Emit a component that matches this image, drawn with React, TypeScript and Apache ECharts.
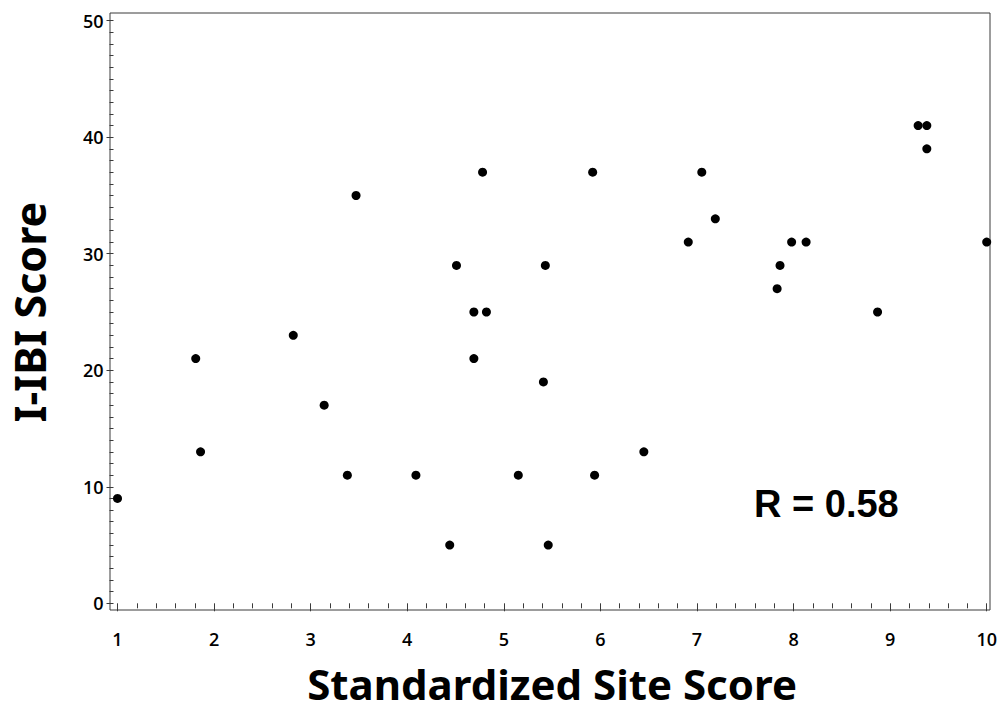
import React, { useEffect, useRef } from "react";
import * as echarts from "echarts";

const siteScore = [
  1.0, 1.81, 1.86, 2.82, 3.14, 3.38, 3.47, 4.09, 4.44, 4.51, 4.69, 4.69, 4.78,
  4.82, 5.15, 5.41, 5.43, 5.46, 5.92, 5.94, 6.45, 6.91, 7.05, 7.19, 7.83, 7.86,
  7.98, 8.13, 8.87, 9.29, 9.38, 9.38, 10.0,
];
const ibiScore = [
  9, 21, 13, 23, 17, 11, 35, 11, 5, 29, 25, 21, 37, 25, 11, 19, 29, 5, 37, 11,
  13, 31, 37, 33, 27, 29, 31, 31, 25, 41, 41, 39, 31,
];
const xTitle = "Standardized Site Score";
const yTitle = "I-IBI Score";
const rLabel = "R = 0.58";

export default function App() {
  const ref = useRef<HTMLDivElement>(null);
  useEffect(() => {
    const chart = echarts.init(ref.current!, null, { renderer: "svg" });
    const points = siteScore.map((x, i) => [x, ibiScore[i]]);
    const axisColor = "#3a3a3a";
    const labelStyle = {
      fontFamily: "Open Sans",
      fontSize: 18,
      fontWeight: 600,
      color: "#000",
    };
    const titleStyle = {
      fontFamily: "Noto Sans",
      fontSize: 43,
      fontWeight: "bold",
      color: "#000",
      lineHeight: 40,
    };
    chart.setOption({
      animation: false,
      backgroundColor: "#fff",
      grid: [
        { left: 114, right: 13.3, top: 20.7, bottom: 109.7, show: false },
        {
          left: 110,
          right: 10,
          top: 13,
          bottom: 103,
          show: true,
          borderColor: axisColor,
          borderWidth: 1,
        },
      ],
      xAxis: [
        {
          type: "value",
          gridIndex: 0,
          min: 1,
          max: 10,
          interval: 1,
          offset: 6.7,
          name: xTitle,
          nameLocation: "middle",
          nameGap: 53,
          nameTextStyle: { ...titleStyle, fontSize: 42 },
          axisLine: { show: false },
          axisTick: { show: true, inside: false, length: 8, lineStyle: { color: axisColor } },
          minorTick: { show: true, splitNumber: 5, length: 5, lineStyle: { color: axisColor } },
          splitLine: { show: false },
          minorSplitLine: { show: false },
          axisLabel: { ...labelStyle, margin: 20 },
        },
        { type: "value", gridIndex: 1, show: false, min: 0, max: 1 },
      ],
      yAxis: [
        {
          type: "value",
          gridIndex: 0,
          min: 0,
          max: 50,
          interval: 10,
          offset: 4,
          name: yTitle,
          nameLocation: "middle",
          nameGap: 64,
          nameTextStyle: titleStyle,
          axisLine: { show: false },
          axisTick: { show: true, inside: false, length: 7, lineStyle: { color: axisColor } },
          minorTick: { show: true, splitNumber: 10, length: 4, lineStyle: { color: axisColor } },
          splitLine: { show: false },
          minorSplitLine: { show: false },
          axisLabel: { ...labelStyle, margin: 10 },
        },
        { type: "value", gridIndex: 1, show: false, min: 0, max: 1 },
      ],
      series: [
        {
          type: "scatter",
          xAxisIndex: 0,
          yAxisIndex: 0,
          data: points,
          symbol: "circle",
          symbolSize: 9,
          clip: false,
          itemStyle: { color: "#000", opacity: 1 },
        },
      ],
      graphic: [
        {
          type: "text",
          x: 754,
          y: 504,
          style: {
            text: rLabel,
            font: 'bold 38px "Liberation Sans", Arial, sans-serif',
            fill: "#000",
            align: "left",
            verticalAlign: "middle",
          },
        },
      ],
    });
    return () => chart.dispose();
  }, []);
  return (
    <div
      ref={ref}
      style={{ position: "fixed", left: 0, top: 0, width: 1000, height: 713 }}
    />
  );
}
